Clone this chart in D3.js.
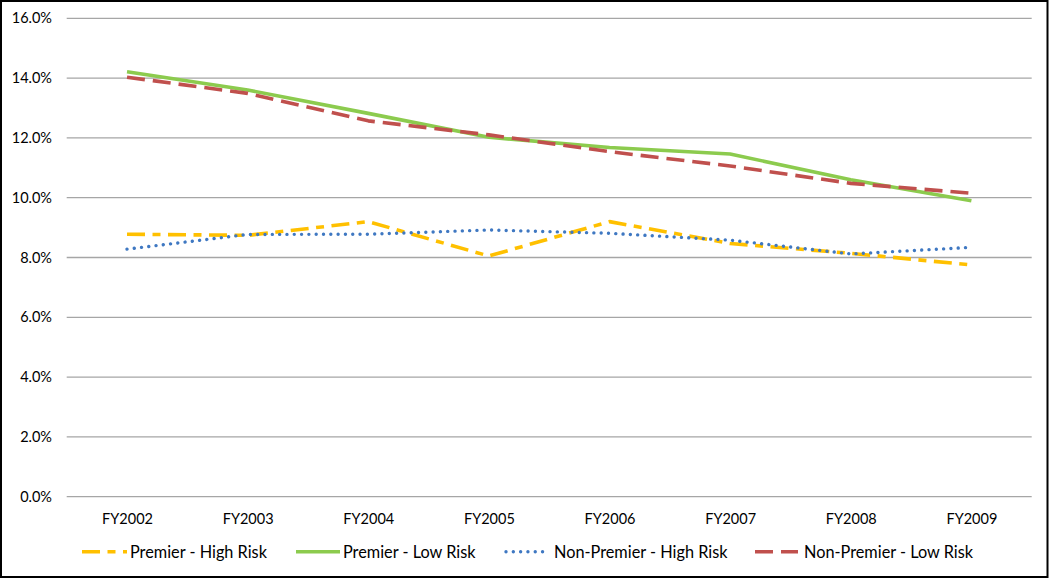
<!DOCTYPE html>
<html>
<head>
<meta charset="utf-8">
<script src="https://cdn.jsdelivr.net/npm/d3@7"></script>
<style>
  html, body { margin: 0; padding: 0; background: #fff; }
  svg { display: block; }
  text { font-family: Lato, "Open Sans", sans-serif; fill: #000; }
</style>
</head>
<body>
<svg id="chart" width="1050" height="579"></svg>
<script>
// ---- Data ----
const categories = ["FY2002", "FY2003", "FY2004", "FY2005", "FY2006", "FY2007", "FY2008", "FY2009"];
const premierHighRisk    = [0.0878, 0.0874, 0.0920, 0.0805, 0.0920, 0.0847, 0.0814, 0.0775];
const premierLowRisk     = [0.1421, 0.1360, 0.1282, 0.1202, 0.1168, 0.1146, 0.1060, 0.0990];
const nonPremierHighRisk = [0.0828, 0.0877, 0.0878, 0.0892, 0.0881, 0.0858, 0.0812, 0.0834];
const nonPremierLowRisk  = [0.1403, 0.1349, 0.1257, 0.1210, 0.1154, 0.1106, 0.1048, 0.1015];
const seriesNames = ["Premier - High Risk", "Premier - Low Risk", "Non-Premier - High Risk", "Non-Premier - Low Risk"];
const yTicks = [0, 0.02, 0.04, 0.06, 0.08, 0.10, 0.12, 0.14, 0.16];

// ---- Styles ----
const styles = [
  { color: "#FFC000", width: 3.6, dash: "18,7.5,8,7.5", cap: "butt" },
  { color: "#8CCB4E", width: 3.6, dash: null, cap: "butt" },
  { color: "#3F78C2", width: 3.4, dash: "0.01,7.3", cap: "round" },
  { color: "#C0504D", width: 3.6, dash: "18,8", cap: "butt" }
];
const seriesData = [premierHighRisk, premierLowRisk, nonPremierHighRisk, nonPremierLowRisk];

const svg = d3.select("#chart");

// Outer border
svg.append("rect")
  .attr("x", 1).attr("y", 1).attr("width", 1046.5).attr("height", 576)
  .attr("fill", "#fff").attr("stroke", "#000").attr("stroke-width", 2);

const plotLeft = 66.7, plotRight = 1031.7, plotTop = 18.3, plotBottom = 496.7;

const x = d3.scalePoint().domain(categories).range([plotLeft, plotRight]).padding(0.5);
const y = d3.scaleLinear().domain([0, 0.16]).range([plotBottom, plotTop]);

// Gridlines
svg.append("g").selectAll("line").data(yTicks).join("line")
  .attr("x1", plotLeft).attr("x2", plotRight)
  .attr("y1", d => y(d)).attr("y2", d => y(d))
  .attr("stroke", "#A6A6A6").attr("stroke-width", 1.3);

// Y axis labels
const yAxis = d3.axisLeft(y).tickValues(yTicks).tickFormat(d3.format(".1%")).tickSize(0).tickPadding(0);
const gy = svg.append("g").attr("transform", `translate(52,0)`).call(yAxis);
gy.select(".domain").remove();
gy.selectAll("text").attr("font-size", 14.5).attr("font-family", "Lato, sans-serif").attr("fill", "#000");

// X axis labels
const xAxis = d3.axisBottom(x).tickSize(0).tickPadding(0);
const gx = svg.append("g").attr("transform", `translate(0,${plotBottom})`).call(xAxis);
gx.select(".domain").remove();
gx.selectAll("text").attr("font-size", 14.5).attr("font-family", "Lato, sans-serif").attr("fill", "#000")
  .attr("dy", null).attr("y", 27);

// Lines
const line = d3.line().x((d, i) => x(categories[i])).y(d => y(d));
seriesData.forEach((vals, i) => {
  const s = styles[i];
  svg.append("path")
    .datum(vals)
    .attr("d", line)
    .attr("fill", "none")
    .attr("stroke", s.color)
    .attr("stroke-width", s.width)
    .attr("stroke-linejoin", "round")
    .attr("stroke-linecap", s.cap)
    .attr("stroke-dasharray", s.dash);
});

// Legend
const legendItems = [
  { x1: 82, x2: 127, tx: 130 },
  { x1: 296, x2: 340, tx: 343 },
  { x1: 506, x2: 548, tx: 554 },
  { x1: 755, x2: 798, tx: 804 }
];
const legendY = 551.7;
legendItems.forEach((li, i) => {
  const s = styles[i];
  svg.append("line")
    .attr("x1", li.x1).attr("x2", li.x2)
    .attr("y1", legendY).attr("y2", legendY)
    .attr("stroke", s.color).attr("stroke-width", s.width)
    .attr("stroke-linecap", s.cap)
    .attr("stroke-dasharray", s.dash);
  svg.append("text")
    .attr("x", li.tx).attr("y", legendY + 6)
    .attr("font-size", 16.3)
    .text(seriesNames[i]);
});
</script>
</body>
</html>
